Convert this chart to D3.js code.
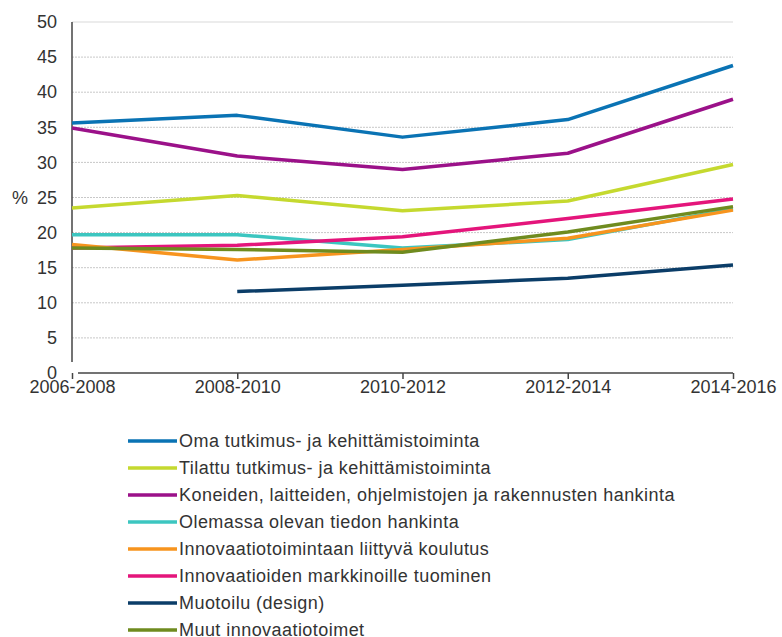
<!DOCTYPE html>
<html><head>
<meta charset="utf-8">
<script src="https://d3js.org/d3.v7.min.js"></script>
<style>
body { margin: 0; background: white; }
svg text { font-family: "Liberation Sans", Arial, sans-serif; fill: #333; }
</style>
</head><body>
<svg id="chart" width="782" height="637"></svg>
<script>
var periods = ["2006-2008", "2008-2010", "2010-2012", "2012-2014", "2014-2016"];
var yTicks = [0, 5, 10, 15, 20, 25, 30, 35, 40, 45, 50];

var names = [
  "Oma tutkimus- ja kehittämistoiminta",
  "Tilattu tutkimus- ja kehittämistoiminta",
  "Koneiden, laitteiden, ohjelmistojen ja rakennusten hankinta",
  "Olemassa olevan tiedon hankinta",
  "Innovaatiotoimintaan liittyvä koulutus",
  "Innovaatioiden markkinoille tuominen",
  "Muotoilu (design)",
  "Muut innovaatiotoimet"
];
var colors = ["#0a73b4", "#c5d92f", "#9b1189", "#3cc6c0", "#f7941e", "#e4157b", "#0b3d68", "#6f8b1f"];

var oma      = [35.6, 36.7, 33.6, 36.1, 43.8];
var tilattu  = [23.5, 25.3, 23.1, 24.5, 29.7];
var koneet   = [34.9, 30.9, 29.0, 31.3, 39.0];
var olemassa = [19.7, 19.7, 17.8, 19.0, 23.4];
var koulutus = [18.3, 16.1, 17.6, 19.2, 23.2];
var markkina = [17.8, 18.2, 19.4, 22.0, 24.8];
var muotoilu = [null, 11.6, 12.5, 13.5, 15.4];
var muut     = [17.8, 17.6, 17.2, 20.1, 23.7];

// draw order: later ones on top
var series = [oma, tilattu, koneet, olemassa, koulutus, markkina, muotoilu, muut];
var drawOrder = [3, 0, 1, 2, 5, 6, 4, 7];

var svg = d3.select("#chart");

var x = d3.scalePoint().domain(periods).range([72, 733]);
var y = d3.scaleLinear().domain([0, 50]).range([373, 22]);

// gridlines
svg.append("g")
  .selectAll("line")
  .data(yTicks.filter(function(d) { return d > 0; }))
  .enter().append("line")
  .attr("x1", 72).attr("x2", 733)
  .attr("y1", function(d) { return y(d); })
  .attr("y2", function(d) { return y(d); })
  .attr("stroke", function(d) { return d == 50 ? "#d9d9d9" : "#c8c8c8"; })
  .attr("stroke-width", 1)
  .attr("stroke-dasharray", function(d) { return d == 50 ? null : "2,1"; });

// y axis
var yAxis = svg.append("g")
  .attr("transform", "translate(72,0)")
  .call(d3.axisLeft(y).tickValues(yTicks).tickSize(0).tickPadding(15));
yAxis.select(".domain").remove();
yAxis.selectAll("text").style("font-size", "18px").attr("fill", "#333");
svg.append("line")
  .attr("x1", 72).attr("x2", 72).attr("y1", y(50)).attr("y2", 362)
  .attr("stroke", "#444").attr("stroke-width", 1.5);

svg.append("text")
  .attr("x", 12).attr("y", y(25))
  .attr("dy", "0.35em")
  .style("font-size", "18px")
  .text("%");

// x axis
var xAxis = svg.append("g")
  .attr("transform", "translate(0,373)")
  .call(d3.axisBottom(x).tickSize(6).tickPadding(1));
xAxis.select(".domain").remove();
xAxis.selectAll(".tick line").attr("stroke", "#444").attr("stroke-width", 1.5);
xAxis.selectAll("text").style("font-size", "18px").attr("fill", "#333");
svg.append("line")
  .attr("x1", 78).attr("x2", 733).attr("y1", 373).attr("y2", 373)
  .attr("stroke", "#444").attr("stroke-width", 1.5);

// lines
var line = d3.line()
  .defined(function(d) { return d != null; })
  .x(function(d, i) { return x(periods[i]); })
  .y(function(d) { return y(d); });

svg.append("g")
  .selectAll("path")
  .data(drawOrder)
  .enter().append("path")
  .attr("d", function(k) { return line(series[k]); })
  .attr("fill", "none")
  .attr("stroke", function(k) { return colors[k]; })
  .attr("stroke-width", 3.5)
  .attr("stroke-linejoin", "round");

// legend
var legend = svg.append("g")
  .selectAll("g")
  .data(names)
  .enter().append("g")
  .attr("transform", function(d, i) { return "translate(128," + (441 + i * 27) + ")"; });

legend.append("line")
  .attr("x1", 0).attr("x2", 49)
  .attr("stroke", function(d, i) { return colors[i]; })
  .attr("stroke-width", 3.5);

legend.append("text")
  .attr("x", 51).attr("dy", "0.35em")
  .style("font-size", "18px")
  .style("letter-spacing", "0.45px")
  .text(function(d) { return d; });
</script>
</body></html>
